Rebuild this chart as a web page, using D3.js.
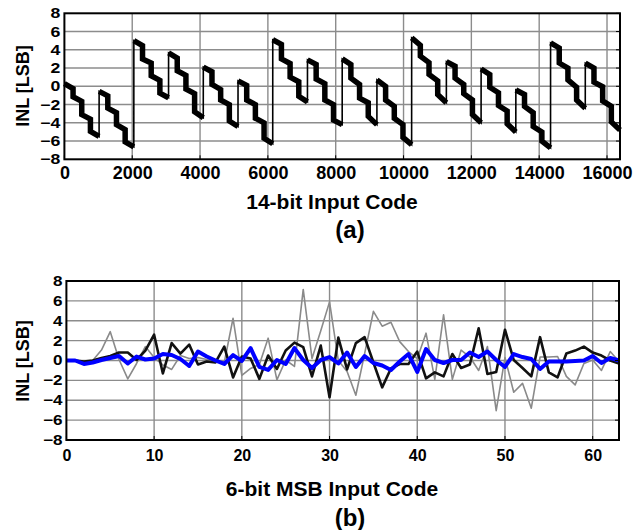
<!DOCTYPE html>
<html>
<head>
<meta charset="utf-8">
<script src="https://cdn.jsdelivr.net/npm/d3@7/dist/d3.min.js"></script>
<style>
  body { margin: 0; background: #fff; }
  svg { display: block; font-family: "Liberation Sans", Arial, sans-serif; font-weight: bold; }
</style>
</head>
<body>
<div id="container"></div>
<script>
// ---- data ----
// (a) 14-bit INL: 64 sub-ranges of 256 codes, level at start / end of each
const subStart = [
  0.3, -1.15, -3.1, -4.95,   -0.55, -2.4, -4.2, -6.1,
  5.0, 3.0, 1.15, -0.75,     3.65, 1.7, -0.3, -2.8,
  2.1, 0.2, -1.5, -3.8,      0.6, -1.5, -3.5, -5.7,
  5.1, 3.0, 1.0, -1.1,       2.9, 0.8, -1.5, -3.7,
  3.0, 0.9, -1.3, -3.3,      0.7, -1.5, -3.5, -5.6,
  5.3, 3.3, 1.3, -0.9,       2.7, 0.9, -0.8, -3.1,
  1.9, -0.1, -2.1, -4.1,     -0.4, -2.2, -4.4, -6.0,
  4.75, 2.55, 0.7, -1.5,     2.55, 0.45, -1.6, -3.9
];
const subEnd = [
  -0.25, -1.65, -3.6, -5.5,  -1.05, -2.9, -4.75, -6.65,
  4.45, 2.55, 0.65, -1.25,   3.1, 1.2, -0.8, -3.45,
  1.6, -0.35, -2.0, -4.4,    0.1, -2.0, -4.0, -6.3,
  4.6, 2.5, 0.5, -1.7,       2.4, 0.3, -2.0, -4.2,
  2.4, 0.2, -1.8, -4.2,      0.0, -2.2, -4.2, -6.4,
  4.5, 2.6, 0.6, -1.8,       2.2, 0.2, -1.5, -4.0,
  1.3, -0.7, -2.7, -5.0,     -0.9, -2.9, -5.0, -6.75,
  4.2, 2.0, -0.1, -2.4,      2.0, -0.05, -2.2, -4.8
];
const subSize = 256;   // codes per sub-range
const blockSubs = 4;   // sub-ranges per 1024-code block

// (b) 6-bit MSB INL, three curves
const msbCodes = d3.range(64);
const inlGray = [
  0, 0, -0.1, 0, 1.05, 2.9, 0.1, -1.85, -0.3, 1.4,
  0.3, -0.45, -0.9, 0.5, 0.2, 0.3, 0.1, 0.0, -0.2, 4.25,
  -1.5, -0.8, -0.4, 2.25, -1.95, 0.05, -0.6, 7.15, 0.2, 3.0,
  5.9, 0.0, -1.1, -3.5, 0.7, 4.95, 3.45, 3.85, 1.9, 0.9,
  0.2, 2.75, -1.9, 4.6, -1.9, 1.05, 0.35, -1.0, 1.4, -5.05,
  0.3, -3.2, -2.3, -4.8, 0.35, 0.35, 0.4, -1.6, -2.45, -0.3,
  0.05, -1.0, 0.9, -0.1
];
const inlBlack = [
  0, 0, -0.1, 0, 0.25, 0.45, 0.8, 0.8, 0.05, 1.0,
  2.6, -1.3, 1.75, 0.7, 1.6, -0.4, -0.1, -0.2, 1.4, -1.7,
  0.4, 0.2, -1.85, 0.5, -0.85, 1.0, 1.8, 1.35, -1.6, 1.5,
  -3.7, 2.3, -0.9, 1.75, 2.35, -0.2, -2.7, -0.8, -0.35, -0.35,
  0.9, -1.8, -1.2, -1.6, 0.65, -0.75, -0.4, 3.25, -1.35, -1.15,
  3.1, 0.05, -0.75, -1.6, 2.35, -1.2, -1.7, 0.7, 1.0, 1.4,
  0.8, 0.5, 0.0, -0.3
];
const inlBlue = [
  0, 0, -0.35, -0.2, 0.05, 0.25, 0.45, -0.3, 0.4, 0.1,
  0.2, 0.65, 0.55, 0.15, -0.55, 0.9, 0.4, 0.0, -0.35, 0.55,
  -0.05, 1.25, -0.65, -0.95, 0.05, -0.35, 1.25, 0.05, -0.75, 0.05,
  0.35, -0.3, 0.8, -0.65, 0.45, -0.25, -0.5, -0.95, -0.1, 0.65,
  -1.15, 1.15, 0.05, -0.25, 0.05, 0.05, 0.8, 0.35, 0.9, 0.05,
  -0.65, 0.65, 0.35, 0.15, -0.85, -0.1, -0.1, -0.1, -0.05, 0.0,
  0.45, -0.25, 0.25, 0.0
];

const yTicks = [-8, -6, -4, -2, 0, 2, 4, 6, 8];
const topXTicks = [0, 2000, 4000, 6000, 8000, 10000, 12000, 14000, 16000];
const bottomXTicks = [0, 10, 20, 30, 40, 50, 60];

// ---- svg ----
const width = 644, height = 530;
const svg = d3.select("#container").append("svg")
  .attr("width", width).attr("height", height)
  .attr("viewBox", [0, 0, width, height]);

const gridColor = "#8c8c8c";

// grid + labels for one panel, returns a layer for the data
function panel({ x, y, xTicks, xFont, xPad, yFont, xLabel, xLabelY, tag, tagY, yLabelY }) {
  const g = svg.append("g");

  // grid
  g.append("g").selectAll("line").data(xTicks.filter(d => d > x.domain()[0] && d < x.domain()[1]))
    .join("line")
    .attr("x1", d => x(d)).attr("x2", d => x(d))
    .attr("y1", y.range()[1]).attr("y2", y.range()[0])
    .attr("stroke", gridColor).attr("stroke-width", 1.4);
  g.append("g").selectAll("line").data(yTicks.slice(1, -1))
    .join("line")
    .attr("x1", x.range()[0]).attr("x2", x.range()[1])
    .attr("y1", d => y(d)).attr("y2", d => y(d))
    .attr("stroke", gridColor).attr("stroke-width", 1.4);

  const data = svg.append("g");

  // frame and inward ticks on top of the data
  const top = svg.append("g");
  const [x0, x1] = x.range(), [y0, y1] = y.range();
  top.append("rect")
    .attr("x", x0).attr("y", y1).attr("width", x1 - x0).attr("height", y0 - y1)
    .attr("fill", "none").attr("stroke", "#000").attr("stroke-width", 2);
  top.append("g").selectAll("line").data(yTicks)
    .join("line")
    .attr("x1", x1 - 4).attr("x2", x1).attr("y1", d => y(d)).attr("y2", d => y(d))
    .attr("stroke", "#000").attr("stroke-width", 1);
  top.append("g").selectAll("line").data(xTicks)
    .join("line")
    .attr("x1", d => x(d)).attr("x2", d => x(d)).attr("y1", y0).attr("y2", y0 - 4)
    .attr("stroke", "#000").attr("stroke-width", 1);

  // x tick labels
  top.append("g")
    .attr("transform", `translate(0,${y0})`)
    .call(d3.axisBottom(x).tickValues(xTicks).tickSize(0).tickPadding(xPad).tickFormat(d3.format("d")))
    .call(a => a.select(".domain").remove())
    .call(a => a.selectAll("text").attr("font-size", xFont).attr("font-family", null).attr("fill", "#000"));

  // y tick labels (slightly widened like the original)
  top.append("g")
    .attr("transform", `translate(${x0 - 4},0)`)
    .call(d3.axisLeft(y).tickValues(yTicks).tickSize(0).tickPadding(0))
    .call(a => a.select(".domain").remove())
    .call(a => a.selectAll("text")
      .attr("x", 0)
      .attr("transform", "scale(1.22,1)")
      .attr("font-size", yFont).attr("font-family", null).attr("fill", "#000"));

  // titles
  svg.append("text")
    .attr("x", 332).attr("y", xLabelY)
    .attr("text-anchor", "middle").attr("font-size", 21)
    .text(xLabel);
  svg.append("text")
    .attr("transform", `translate(29,${yLabelY}) rotate(-90)`)
    .attr("text-anchor", "middle").attr("font-size", 18)
    .text("INL [LSB]");
  svg.append("text")
    .attr("x", 350).attr("y", tagY)
    .attr("text-anchor", "middle").attr("font-size", 24)
    .text(tag);

  return data;
}

// ---- (a) ----
const xA = d3.scaleLinear([0, 16383], [64.4, 620]);
const yA = d3.scaleLinear([-8, 8], [159.3, 13.3]);
const layerA = panel({
  x: xA, y: yA, xTicks: topXTicks, xFont: 18, xPad: 7, yFont: 14.5,
  xLabel: "14-bit Input Code", xLabelY: 209, tag: "(a)", tagY: 238, yLabelY: 86
});

// points at the start / end of every sub-range
const ptsA = [];
subStart.forEach((s, i) => {
  ptsA.push({ c: i * subSize, v: s, b: Math.floor(i / blockSubs) });
  ptsA.push({ c: i * subSize + subSize - 1, v: subEnd[i], b: Math.floor(i / blockSubs) });
});
const lineA = d3.line().x(d => xA(d.c)).y(d => yA(d.v));

layerA.append("path")
  .attr("d", lineA(ptsA))
  .attr("fill", "none").attr("stroke", "#000").attr("stroke-width", 1.6);

layerA.append("g").selectAll("path")
  .data(d3.groups(ptsA, d => d.b))
  .join("path")
  .attr("d", ([, pts]) => lineA(pts))
  .attr("fill", "none").attr("stroke", "#000")
  .attr("stroke-width", 5.5).attr("stroke-linejoin", "miter");

// ---- (b) ----
const xB = d3.scaleLinear([0, 63], [66.4, 619]);
const yB = d3.scaleLinear([-8, 8], [440, 281]);
const layerB = panel({
  x: xB, y: yB, xTicks: bottomXTicks, xFont: 16, xPad: 10, yFont: 14,
  xLabel: "6-bit MSB Input Code", xLabelY: 496, tag: "(b)", tagY: 526, yLabelY: 361
});

const lineB = d3.line().x((d, i) => xB(msbCodes[i])).y(d => yB(d));
[
  [inlGray, "#8a8a8a", 1.6],
  [inlBlack, "#111", 2.6],
  [inlBlue, "#0000ff", 4]
].forEach(([vals, color, w]) => {
  layerB.append("path")
    .attr("d", lineB(vals))
    .attr("fill", "none").attr("stroke", color)
    .attr("stroke-width", w).attr("stroke-linejoin", "round");
});
</script>
</body>
</html>
